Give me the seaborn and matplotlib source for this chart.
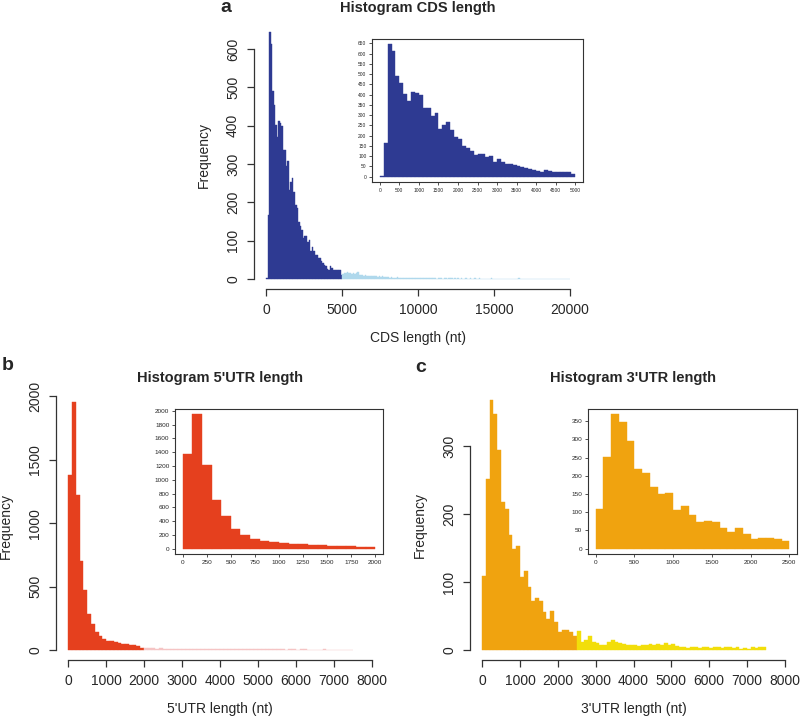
import numpy as np
import pandas as pd
import matplotlib
matplotlib.use("Agg")
import matplotlib.pyplot as plt
import seaborn as sns

# every histogram uses 100 nt bins
BIN = 100

# CDS length, counts per bin: 0-5000 (dark) and 5000-20000 (pale tail)
cds_counts = [3, 166, 645, 613, 491, 455, 402, 371, 412, 407,
              399, 336, 336, 296, 309, 233, 254, 265, 228, 193,
              185, 149, 138, 127, 106, 113, 113, 98, 101, 74,
              85, 74, 63, 62, 55, 54, 46, 43, 38, 35,
              27, 25, 35, 30, 25, 24, 24, 24, 24, 11]
cds_tail = [14, 17, 16, 18, 15, 17, 14, 16, 13, 15,
            18, 12, 10, 11, 9, 10, 8, 9, 7, 8,
            9, 7, 8, 6, 7, 6, 7, 5, 6, 5,
            5, 4, 5, 4, 4, 4, 5, 3, 4, 3,
            4, 3, 3, 4, 3, 3, 3, 2, 3, 3,
            2, 3, 2, 2, 3, 2, 2, 3, 2, 2,
            2, 2, 1, 2, 2, 2, 1, 2, 2, 1,
            3, 2, 2, 1, 2, 1, 2, 1, 2, 1,
            1, 2, 1, 1, 2, 1, 1, 2, 1, 1,
            2, 1, 1, 1, 1, 1, 1, 1, 2, 1,
            1, 1, 1, 1, 1, 1, 1, 1, 1, 1,
            1, 1, 1, 1, 1, 1, 2, 1, 1, 1,
            1, 1, 1, 1, 1, 1, 1, 1, 1, 1,
            1, 1, 1, 1, 1, 1, 1, 1, 1, 1,
            1, 1, 1, 1, 1, 1, 1, 1, 1, 1]

# 5'UTR length: 0-2000 (dark) and 2000-7500 (pale tail)
utr5_counts = [1380, 1950, 1220, 700, 470, 285, 205, 140, 110, 90,
               75, 68, 62, 55, 50, 45, 42, 38, 30, 20]
utr5_tail = [16, 14, 14, 12, 13, 12, 11, 11, 10, 10,
             10, 9, 9, 8, 10, 8, 9, 7, 8, 7,
             7, 8, 6, 7, 6, 6, 7, 6, 5, 6,
             5, 6, 5, 5, 6, 5, 5, 4, 5, 5,
             4, 5, 5, 4, 4, 4, 4, 5, 4, 4,
             4, 4, 3, 4, 4]

# 3'UTR length: 0-2500 (dark) and 2500-7500 (pale tail)
utr3_counts = [109, 252, 369, 347, 295, 218, 208, 170, 149, 153,
               107, 116, 93, 72, 77, 72, 56, 45, 57, 41,
               27, 29, 29, 27, 21]
utr3_tail = [28, 12, 15, 21, 12, 11, 7, 8, 12, 15,
             12, 10, 9, 7, 8, 7, 6, 8, 7, 9,
             8, 9, 7, 10, 8, 9, 6, 4, 4, 3,
             5, 4, 3, 5, 4, 3, 4, 5, 3, 4,
             5, 3, 4, 2, 3, 2, 4, 3, 4, 5]

W, H = 800, 716

sns.set_style("white")
plt.rcParams["font.family"] = ["Liberation Sans", "DejaVu Sans"]


def px_axes(fig, left, top, right, bottom):
    return fig.add_axes([left / W, 1 - bottom / H, (right - left) / W, (bottom - top) / H])


def r_lim(lo, hi):
    pad = 0.04 * (hi - lo)
    return lo - pad, hi + pad


def draw_hist(ax, counts, start, color):
    edges = [start + BIN * i for i in range(len(counts) + 1)]
    df = pd.DataFrame({"x": [e + BIN / 2 for e in edges[:-1]], "n": counts})
    sns.histplot(data=df, x="x", weights="n", bins=edges, element="bars",
                 fill=True, color=color, alpha=1, edgecolor=color,
                 linewidth=0.3, ax=ax)


def main_panel(fig, box, core, tail, c_core, c_tail, xmax, yticks, xlabel):
    ax = px_axes(fig, *box)
    draw_hist(ax, core, 0, c_core)
    draw_hist(ax, tail, len(core) * BIN, c_tail)
    ax.set_xlim(*r_lim(0, xmax))
    ax.set_ylim(*r_lim(0, max(core)))
    ax.set_xticks(np.linspace(0, xmax, 5 if xmax == 20000 else 9))
    ax.set_yticks(yticks)
    for s in ["top", "right"]:
        ax.spines[s].set_visible(False)
    ax.spines["left"].set_bounds(yticks[0], yticks[-1])
    ax.spines["bottom"].set_bounds(0, xmax)
    for s in ["left", "bottom"]:
        ax.spines[s].set_color("#333333")
        ax.spines[s].set_linewidth(0.9)
    ax.tick_params(direction="out", length=5, width=0.9, color="#333333",
                   labelsize=10, pad=5, left=True, bottom=True)
    for lab in ax.get_yticklabels():
        lab.set_rotation(90)
        lab.set_va("center")
    ax.set_xlabel(xlabel, fontsize=10, labelpad=10)
    ax.set_ylabel("Frequency", fontsize=10, labelpad=11)
    return ax


def inset_panel(fig, box, core, color, xticks, yticks, fs):
    ax = px_axes(fig, *box)
    draw_hist(ax, core, 0, color)
    ax.set_xlim(*r_lim(0, len(core) * BIN))
    ax.set_ylim(*r_lim(0, max(core)))
    ax.set_xticks(xticks)
    ax.set_yticks(yticks)
    for s in ax.spines.values():
        s.set_visible(True)
        s.set_color("#333333")
        s.set_linewidth(0.8)
    ax.tick_params(direction="out", length=2.5, width=0.6, color="#333333",
                   labelsize=fs, pad=1.5, left=True, bottom=True)
    ax.set_xlabel("")
    ax.set_ylabel("")
    return ax


fig = plt.figure(figsize=(W / 100, H / 100), dpi=100)

# a - CDS
main_panel(fig, (254, 22, 582, 289), cds_counts, cds_tail, "#2E3A92", "#AFD8EC",
           20000, list(range(0, 601, 100)), "CDS length (nt)")
inset_panel(fig, (372, 39, 583, 182), cds_counts, "#2E3A92",
            list(range(0, 5001, 500)), list(range(0, 651, 50)), 3.5)

# b - 5'UTR
main_panel(fig, (56, 392.5, 384, 660), utr5_counts, utr5_tail, "#E5401E", "#F5C4C4",
           8000, list(range(0, 2001, 500)), "5'UTR length (nt)")
inset_panel(fig, (175, 409, 383, 554), utr5_counts, "#E5401E",
            list(range(0, 2001, 250)), list(range(0, 2001, 200)), 4.6)

# c - 3'UTR
main_panel(fig, (470, 389.5, 797, 660), utr3_counts, utr3_tail, "#F0A30F", "#F2DE0A",
           8000, list(range(0, 301, 100)), "3'UTR length (nt)")
inset_panel(fig, (588, 409, 797, 554), utr3_counts, "#F0A30F",
            list(range(0, 2501, 500)), list(range(0, 351, 50)), 4.6)

# titles and panel letters
for x, y, t in [(418, 8, "Histogram CDS length"),
                (220, 378, "Histogram 5'UTR length"),
                (633, 378, "Histogram 3'UTR length")]:
    fig.text(x / W, 1 - y / H, t, ha="center", va="center", fontsize=10.5, fontweight="bold")
for x, y, t in [(226, 8, "a"), (8, 365, "b"), (421, 368, "c")]:
    fig.text(x / W, 1 - y / H, t, ha="center", va="center", fontsize=14, fontweight="bold")

fig.savefig("out.png", dpi=100)
